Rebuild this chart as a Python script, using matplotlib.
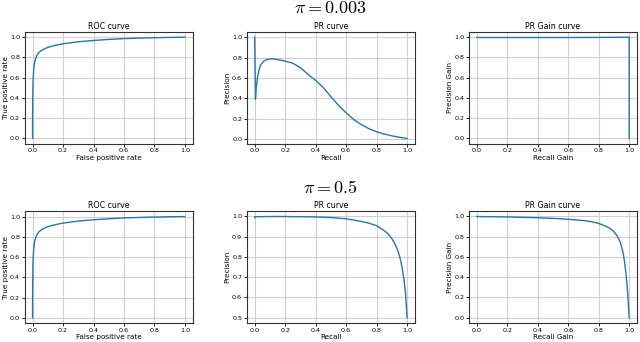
import matplotlib
matplotlib.use('Agg')
import matplotlib.pyplot as plt
import numpy as np

# ROC (same classifier for both priors)
fpr = [0.0, 0.0, 0.001, 0.002, 0.004, 0.007, 0.01, 0.015, 0.02, 0.03, 0.04, 0.05, 0.07, 0.1,
       0.15, 0.2, 0.3, 0.4, 0.5, 0.6, 0.7, 0.8, 0.9, 1.0]
tpr = [0.0, 0.2, 0.38, 0.5, 0.6, 0.67, 0.72, 0.76, 0.79, 0.825, 0.845, 0.86, 0.88, 0.9,
       0.92, 0.935, 0.955, 0.968, 0.978, 0.986, 0.991, 0.995, 0.998, 1.0]

# pi = 0.003
rec_a = [0.0, 0.0, 0.005, 0.01, 0.02, 0.03, 0.04, 0.06, 0.08, 0.1, 0.12, 0.15, 0.2, 0.25,
         0.3, 0.35, 0.4, 0.45, 0.5, 0.55, 0.6, 0.65, 0.7, 0.75, 0.8, 0.85, 0.9, 0.95, 1.0]
prec_a = [1.0, 1.0, 0.39, 0.5, 0.62, 0.69, 0.73, 0.765, 0.78, 0.786, 0.787, 0.78, 0.765, 0.745,
          0.70, 0.635, 0.575, 0.505, 0.415, 0.33, 0.255, 0.19, 0.14, 0.1, 0.07, 0.047, 0.03, 0.016, 0.004]
rg_a = [0.0, 0.2, 0.4, 0.6, 0.8, 0.9, 0.98, 0.995, 0.998, 0.998]
pg_a = [0.995, 0.995, 0.995, 0.995, 0.996, 0.997, 0.998, 0.998, 0.998, 0.0]

# pi = 0.5
rec_b = [0.0, 0.0, 0.1, 0.2, 0.3, 0.4, 0.5, 0.6, 0.7, 0.75, 0.8, 0.85, 0.88, 0.9, 0.92,
         0.94, 0.95, 0.96, 0.97, 0.98, 0.99, 1.0]
prec_b = [0.993, 0.998, 0.999, 0.999, 0.998, 0.997, 0.994, 0.988, 0.975, 0.966, 0.954, 0.93,
          0.91, 0.89, 0.865, 0.83, 0.805, 0.775, 0.735, 0.685, 0.62, 0.5]
rg_b = [0.0, 0.1, 0.2, 0.3, 0.4, 0.5, 0.6, 0.7, 0.75, 0.8, 0.85, 0.88, 0.9, 0.92, 0.94,
        0.95, 0.96, 0.97, 0.98, 0.99, 1.0]
pg_b = [0.998, 0.996, 0.994, 0.99, 0.986, 0.98, 0.971, 0.958, 0.948, 0.93, 0.9, 0.875,
        0.85, 0.81, 0.75, 0.7, 0.64, 0.55, 0.42, 0.25, 0.0]

plt.rcParams['font.size'] = 5
plt.rcParams['mathtext.fontset'] = 'cm'

fig, axs = plt.subplots(2, 3, figsize=(6.4, 3.42), dpi=100)
fig.subplots_adjust(left=0.039, right=0.995, top=0.906, bottom=0.056, wspace=0.325, hspace=0.61)

LAB = 5.2
TIT = 5.7

rows = [(rec_a, prec_a, rg_a, pg_a), (rec_b, prec_b, rg_b, pg_b)]
for i, (rec, prec, rg, pg) in enumerate(rows):
    ax = axs[i, 0]
    ax.plot(fpr, tpr, color='tab:blue', lw=1)
    ax.set_title('ROC curve', fontsize=TIT, pad=2.5)
    ax.set_xlabel('False positive rate', fontsize=LAB, labelpad=1)
    ax.set_ylabel('True positive rate', fontsize=LAB, labelpad=1)

    ax = axs[i, 1]
    ax.plot(rec, prec, color='tab:blue', lw=1)
    ax.set_title('PR curve', fontsize=TIT, pad=2.5)
    ax.set_xlabel('Recall', fontsize=LAB, labelpad=1)
    ax.set_ylabel('Precision', fontsize=LAB, labelpad=1)

    ax = axs[i, 2]
    ax.plot(rg, pg, color='tab:blue', lw=1)
    ax.set_title('PR Gain curve', fontsize=TIT, pad=2.5)
    ax.set_xlabel('Recall Gain', fontsize=LAB, labelpad=1)
    ax.set_ylabel('Precision Gain', fontsize=LAB, labelpad=1)

for ax in axs.flat:
    ax.grid(True, color='#cfcfcf', lw=0.8)
    ax.tick_params(labelsize=4.6, length=2, width=0.6, pad=1.5)
    ax.set_xticks(np.arange(0, 1.01, 0.2))
    for s in ax.spines.values():
        s.set_linewidth(0.8)
        s.set_color('#333333')

axs[1, 1].set_yticks(np.arange(0.5, 1.01, 0.1))

for i, lab in enumerate([r'$\pi = 0.003$', r'$\pi = 0.5$']):
    pos = axs[i, 1].get_position()
    fig.text((pos.x0 + pos.x1) / 2, pos.y1 + 0.07, lab, ha='center', va='center', fontsize=13)

fig.savefig('out.png', dpi=100)
